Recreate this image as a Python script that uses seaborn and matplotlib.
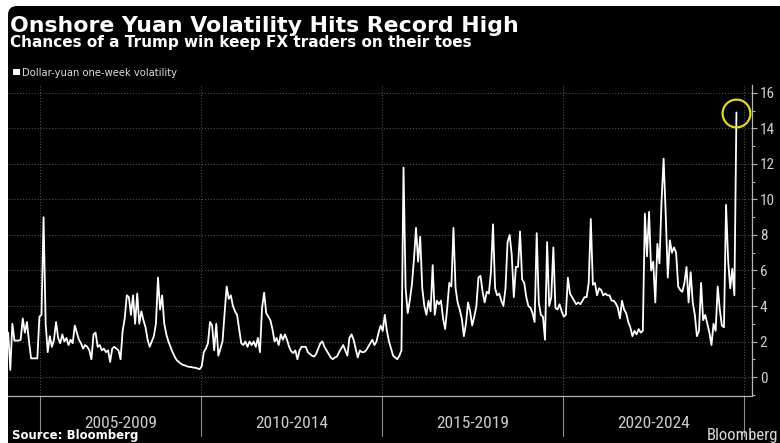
import matplotlib
matplotlib.use("Agg")
import matplotlib.pyplot as plt
import matplotlib.dates as mdates
import matplotlib.transforms as mtransforms
from matplotlib.patches import FancyBboxPatch, Rectangle
from matplotlib.ticker import MultipleLocator, NullFormatter
from matplotlib import font_manager
import pandas as pd
import seaborn as sns

# ---- text ----
title = "Onshore Yuan Volatility Hits Record High"
subtitle = "Chances of a Trump win keep FX traders on their toes"
series_name = "Dollar-yuan one-week volatility"
source = "Source: Bloomberg"
brand = "Bloomberg"

# ---- data: dollar-yuan one-week implied volatility, sampled every 3 weeks ----
start_date = "2004-09-03"
step = "21D"
vol = [
    2.5, 0.4, 3.0, 2.05, 2.05, 2.05, 2.1, 3.3, 2.5, 3.1,
    2.0, 1.05, 1.05, 1.05, 1.05, 3.4, 3.5, 9.0, 3.0, 1.4,
    2.3, 1.7, 2.1, 3.1, 2.2, 1.9, 2.4, 2.0, 2.2, 1.8,
    2.1, 1.9, 2.9, 2.5, 2.1, 1.9, 1.6, 1.8, 1.7, 1.5,
    1.0, 2.4, 2.5, 1.7, 1.8, 1.5, 1.6, 1.4, 1.5, 0.85,
    1.6, 1.7, 1.6, 1.5, 1.0, 2.6, 3.3, 4.6, 4.5,
    3.5, 4.6, 3.0, 4.7, 3.0, 3.7, 3.2, 2.8, 2.1, 1.7,
    2.0, 2.3, 3.0, 5.6, 3.8, 4.6, 3.0, 2.4, 2.0, 1.7,
    1.4, 1.15, 0.95, 0.85, 0.75, 0.68, 0.65, 0.6, 0.57, 0.56,
    0.53, 0.52, 0.48, 0.44, 0.6, 1.4, 1.6, 1.9, 3.1, 2.9,
    1.5, 3.0, 1.2, 1.6, 2.0, 3.6, 5.1, 4.4, 4.6, 4.0,
    3.7, 3.5, 2.7, 1.9, 1.8, 2.0, 1.7, 2.0,
    1.8, 2.0, 1.7, 2.2, 1.4, 3.9, 4.75, 3.6, 3.4, 3.2,
    2.7, 2.0, 2.2, 1.8, 2.4, 2.1, 2.4, 2.1, 1.7, 1.45,
    1.35, 1.5, 1.0, 1.5, 1.7, 1.7, 1.7, 1.4, 1.3, 1.2,
    1.15, 1.3, 1.6, 1.9, 2.0, 1.7, 1.5, 1.3, 1.1, 1.0,
    1.1, 1.15, 1.4, 1.6, 1.8, 1.5, 1.2, 2.2, 2.4, 2.1,
    1.6, 1.1, 1.5, 1.4, 1.4, 1.5, 1.7,
    1.9, 2.1, 1.8, 2.0, 2.5, 2.9, 2.6, 3.5, 2.6, 2.0,
    1.6, 1.2, 1.1, 1.0, 1.2, 1.5, 11.8, 5.0, 3.6, 4.3,
    5.2, 6.6, 8.4, 6.5, 7.9, 5.0, 4.0, 3.5, 4.3, 3.7,
    6.3, 3.5, 4.3, 4.1, 4.3, 3.3, 2.7, 3.9, 5.3, 5.1,
    8.4, 5.0, 4.2, 3.8, 3.3, 2.3, 3.0, 4.2, 3.7, 2.9,
    3.4, 4.0, 5.6, 5.7, 4.8, 4.2, 4.8, 4.7,
    5.9, 8.6, 5.0, 4.6, 4.7, 4.3, 4.0, 5.0, 7.6, 8.0,
    6.9, 4.5, 6.2, 6.2, 8.2, 5.5, 5.3, 4.5, 4.0, 3.9,
    3.6, 3.1, 8.1, 4.2, 3.5, 3.4, 2.1, 7.6, 4.0, 4.5,
    7.3, 3.9, 3.8, 4.1, 3.7, 3.4, 3.5, 5.6, 4.7, 4.5,
    4.3, 4.1, 4.2, 4.1, 4.3, 4.5, 4.5, 5.3, 8.9, 5.2,
    5.3, 4.6, 5.0, 4.9, 4.6, 4.7, 4.6, 4.6,
    4.3, 4.3, 4.15, 3.9, 3.3, 4.3, 3.8, 3.6, 3.1, 2.8,
    2.3, 2.6, 2.4, 2.7, 2.5, 2.6, 9.2, 6.8, 9.3, 6.0,
    6.5, 4.2, 7.5, 6.4, 9.9, 12.3, 9.2, 5.6, 7.7, 7.0,
    7.3, 7.0, 5.1, 4.9, 4.8, 5.3, 6.2, 4.2, 5.9, 4.2,
    3.5, 2.3, 2.6, 5.3, 3.2, 3.5, 3.0, 2.5, 1.8, 3.0,
    2.6, 5.1, 3.8, 2.9, 2.8, 9.7, 6.6, 5.0, 6.1, 4.6,
    14.9,
]

# period bands along the time axis
period_labels = ["2005-2009", "2010-2014", "2015-2019", "2020-2024"]
period_edges = ["2005-07-21", "2010-01-01", "2015-01-01", "2020-01-01", "2025-01-01"]
x_range = ["2004-09-01", "2025-03-24"]
y_ticks = list(range(0, 17, 2))
y_range = (-1.07, 16.45)

# ---- style ----
sns.set_theme(style="dark")
installed = {f.name for f in font_manager.fontManager.ttflist}
narrow = next((n for n in ["Liberation Sans Narrow", "Roboto Condensed", "DejaVu Sans"]
               if n in installed), "DejaVu Sans")
plt.rcParams["font.family"] = ["DejaVu Sans"]
narrow_family = [narrow, "DejaVu Sans"]

BG = "#000000"
FG = "#ffffff"
AXIS = "#b4b4b4"
GRID = "#4d4d4d"
RING = "#e2d626"

df = pd.DataFrame({
    "date": pd.date_range(start_date, periods=len(vol), freq=step),
    "vol": vol,
})

W, H = 780, 443
fig = plt.figure(figsize=(W / 100, H / 100), dpi=100, facecolor="white")
px = mtransforms.IdentityTransform()

# dark card with a rounded top-left corner
card = FancyBboxPatch((8, -30), W, H - 6 + 30,
                      boxstyle="round,pad=0,rounding_size=9",
                      transform=px, facecolor=BG, edgecolor="none", zorder=-5)
fig.add_artist(card)

ax = fig.add_axes([8 / W, (H - 396) / H, 744 / W, 311 / H])
ax.set_facecolor(BG)

sns.lineplot(data=df, x="date", y="vol", ax=ax, color=FG, linewidth=1.3,
             zorder=3, legend=False)

# highlight the latest reading
last = df.iloc[-1]
ax.plot([last["date"]], [last["vol"]], marker="o", markersize=20,
        markerfacecolor="none", markeredgecolor=RING, markeredgewidth=1.6,
        zorder=4, clip_on=False)

# axes limits
ax.set_xlim(mdates.date2num(pd.Timestamp(x_range[0])),
            mdates.date2num(pd.Timestamp(x_range[1])))
ax.set_ylim(*y_range)

# y axis on the right
ax.yaxis.tick_right()
ax.set_yticks(y_ticks)
ax.yaxis.set_minor_locator(MultipleLocator(1))
ax.tick_params(axis="y", which="major", direction="out", length=3.5, width=0.8,
               colors=AXIS, labelsize=11, pad=2)
ax.tick_params(axis="y", which="minor", direction="out", length=2.5, width=0.8,
               colors=AXIS)
for lab in ax.get_yticklabels():
    lab.set_family(narrow_family)
    lab.set_color("#cfcfcf")

# x axis: yearly ticks, no labels
ax.xaxis.set_major_locator(mdates.YearLocator(1))
ax.xaxis.set_major_formatter(NullFormatter())
ax.tick_params(axis="x", which="major", direction="out", length=3, width=0.8,
               colors=AXIS)
ax.set_xlabel("")
ax.set_ylabel("")

for side in ["left", "top"]:
    ax.spines[side].set_visible(False)
for side in ["right", "bottom"]:
    ax.spines[side].set_visible(True)
    ax.spines[side].set_color(AXIS)
    ax.spines[side].set_linewidth(0.9)

# dotted grid
ax.grid(False)
dots = (0, (1, 1.6))
for yv in y_ticks:
    ax.axhline(yv, color=GRID, linestyle=dots, linewidth=0.8, zorder=1)
edge_nums = [mdates.date2num(pd.Timestamp(e)) for e in period_edges]
for xv in edge_nums:
    ax.axvline(xv, color=GRID, linestyle=dots, linewidth=0.8, zorder=1)

# period separators and labels below the axis
blend = mtransforms.blended_transform_factory(ax.transData, ax.transAxes)
for xv in edge_nums:
    ax.plot([xv, xv], [0, -0.128], transform=blend, color="#8c8c8c",
            linewidth=0.8, clip_on=False)
for lab, a, b in zip(period_labels, edge_nums[:-1], edge_nums[1:]):
    ax.text((a + b) / 2, -0.09, lab, transform=blend, ha="center", va="center",
            color="#cccccc", fontsize=12.5, family=narrow_family)

# titles
fig.text(10 / W, 1 - 32 / H, title, color=FG, fontsize=15.8, fontweight="bold",
         va="baseline", ha="left")
fig.text(10 / W, 1 - 47.5 / H, subtitle, color=FG, fontsize=11, fontweight="bold",
         va="baseline", ha="left")

# legend key
fig.add_artist(Rectangle((13, H - 75), 6.5, 6.5, transform=px,
                         facecolor=FG, edgecolor="none"))
fig.text(21.5 / W, 1 - 75.5 / H, series_name, color="#dddddd", fontsize=7.2,
         va="baseline", ha="left")

# footer
fig.text(12 / W, 1 - 439.5 / H, source, color=FG, fontsize=8.5, fontweight="bold",
         va="baseline", ha="left")
fig.text(778 / W, 1 - 440 / H, brand, color="#d8d8d8", fontsize=12,
         va="baseline", ha="right", family=narrow_family)

fig.savefig("out.png", dpi=100, facecolor=fig.get_facecolor())
